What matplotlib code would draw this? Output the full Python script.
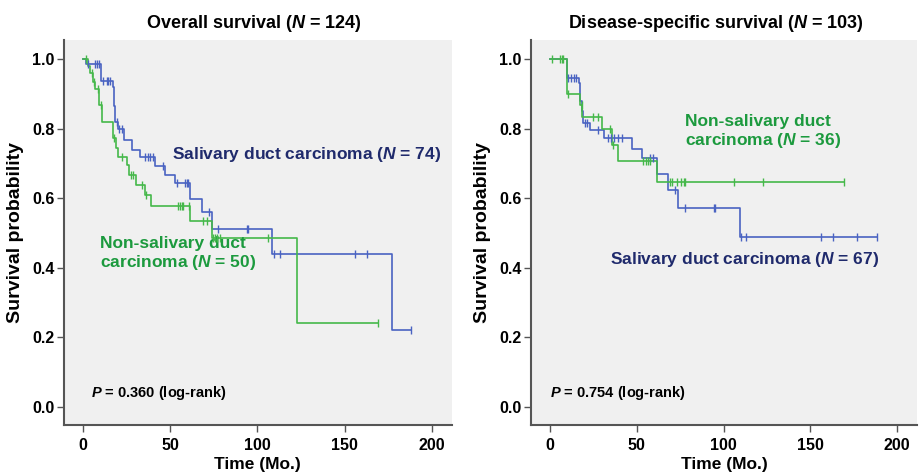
import numpy as np
import matplotlib
matplotlib.use("Agg")
import matplotlib.pyplot as plt

plt.rcParams['font.family'] = ['Liberation Sans', 'DejaVu Sans']
plt.rcParams['font.weight'] = 'bold'
plt.rcParams['mathtext.fontset'] = 'custom'
plt.rcParams['mathtext.it'] = 'Liberation Sans:italic:bold'
plt.rcParams['mathtext.rm'] = 'Liberation Sans:bold'

# ---------------- data ----------------
# Overall survival
os_sdc_t = [0, 1.5, 10.5, 17.0, 17.8, 18.4, 20.0, 23.4, 27.8, 32.5, 41.2, 46.9, 52.6, 61.3, 68.0, 74.0, 108.5, 177.0]
os_sdc_s = [1.0, .986, .938, .920, .865, .820, .800, .767, .739, .718, .692, .667, .643, .598, .561, .511, .440, .221]
os_sdc_c = [2.5, 6.7, 8.0, 9.0, 11.5, 13.4, 14.4, 15.3, 19.2, 20.5, 22.0, 35.4, 37.3, 38.5, 40.0, 46.0,
            53.6, 58.4, 59.4, 60.0, 72.3, 77.5, 93.8, 94.7, 109.5, 113.0, 156.0, 162.7, 188.0]

os_non_t = [0, 2.5, 4.2, 5.8, 6.7, 9.2, 10.9, 16.9, 19.0, 20.1, 24.9, 26.5, 30.6, 35.4, 38.7, 61.3, 73.7, 123.0]
os_non_s = [1.0, .980, .959, .935, .913, .868, .820, .772, .745, .719, .695, .667, .638, .609, .578, .534, .485, .242]
os_non_c = [1.5, 5.2, 6.2, 8.4, 10.0, 17.6, 22.5, 27.5, 28.6, 34.0, 36.2, 54.5, 55.5, 56.5, 57.4, 61.0,
            68.9, 70.8, 74.5, 75.5, 77.0, 78.5, 106.2, 169.4]

# Disease-specific survival
dss_sdc_t = [0, 10.0, 16.9, 17.5, 18.2, 19.0, 23.0, 31.2, 47.1, 52.9, 61.5, 67.7, 73.7, 109.2]
dss_sdc_s = [1.0, .947, .930, .880, .850, .815, .796, .772, .743, .715, .671, .624, .571, .488]
dss_sdc_c = [10.6, 12.0, 13.5, 15.0, 20.0, 21.5, 27.9, 33.5, 35.0, 37.0, 39.0, 41.3, 57.7, 59.6, 72.1,
             78.0, 94.2, 95.2, 110.0, 113.0, 156.0, 163.3, 177.1, 188.6]

dss_non_t = [0, 10.0, 17.3, 18.5, 30.2, 35.6, 39.4, 61.5]
dss_non_s = [1.0, .900, .868, .833, .798, .753, .708, .648]
dss_non_c = [1.0, 5.8, 6.8, 7.7, 10.6, 18.3, 25.0, 27.9, 34.6, 36.0, 53.8, 55.5, 56.5, 57.7, 69.0, 70.5,
             73.0, 75.5, 77.0, 78.0, 106.0, 123.0, 169.2]

titles = ["Overall survival ($N$ = 124)", "Disease-specific survival ($N$ = 103)"]
p_texts = ["$P$ = 0.360 (log-rank)", "$P$ = 0.754 (log-rank)"]
x_ticks = [0, 50, 100, 150, 200]
y_ticks = [0.0, 0.2, 0.4, 0.6, 0.8, 1.0]

BLUE = "#4a63c2"
GREEN = "#45b84a"
NAVY = "#1f2a6c"
DGREEN = "#1c9a3e"
BG = "#f0f0f0"
SPINE = "#555555"


def km(ax, t, s, c, color):
    t = np.asarray(t, float)
    s = np.asarray(s, float)
    c = np.asarray(c, float)
    tend = max(t[-1], c.max())
    tx = np.append(t, tend)
    sx = np.append(s, s[-1])
    ax.step(tx, sx, where='post', color=color, lw=1.2, zorder=3)
    idx = np.searchsorted(t, c, side='right') - 1
    ax.plot(c, s[idx], ls='none', marker='|', ms=6, mew=1.0, color=color, zorder=4)


fig = plt.figure(figsize=(9.19, 4.76), dpi=100)
W, H = 919, 476
ax1 = fig.add_axes([64 / W, 1 - 425 / H, (451.7 - 64) / W, 385 / H])
ax2 = fig.add_axes([531 / W, 1 - 425 / H, (917 - 531) / W, 385 / H])

km(ax1, os_sdc_t, os_sdc_s, os_sdc_c, BLUE)
km(ax1, os_non_t, os_non_s, os_non_c, GREEN)
km(ax2, dss_sdc_t, dss_sdc_s, dss_sdc_c, BLUE)
km(ax2, dss_non_t, dss_non_s, dss_non_c, GREEN)

for i, ax in enumerate([ax1, ax2]):
    ax.set_facecolor(BG)
    ax.set_xlim(-11, 211.5)
    ax.set_ylim(-0.052, 1.055)
    ax.set_xticks(x_ticks)
    ax.set_yticks(y_ticks)
    ax.set_yticklabels([f"{v:.1f}" for v in y_ticks])
    for side in ['top', 'right']:
        ax.spines[side].set_visible(False)
    for side in ['left', 'bottom']:
        ax.spines[side].set_color(SPINE)
        ax.spines[side].set_linewidth(1.5)
    ax.tick_params(axis='both', length=5, width=1.0, color=SPINE, labelsize=11.5, pad=2)
    ax.tick_params(axis='x', pad=4)
    for lab in ax.get_xticklabels() + ax.get_yticklabels():
        lab.set_fontweight('bold')
    ax.set_xlabel("Time (Mo.)", fontsize=12.5, fontweight='bold', labelpad=3)
    ax.set_ylabel("Survival probability", fontsize=14, fontweight='bold', labelpad=6)
    ax.text(0.07 if i == 0 else 0.05, 0.083, p_texts[i], transform=ax.transAxes, fontsize=10.5,
            fontweight='bold', va='center', ha='left', color='black')

ax1.set_title(titles[0], fontsize=13, fontweight='bold', pad=9, x=0.49)
ax2.set_title(titles[1], fontsize=13, fontweight='bold', pad=9, x=0.48)

ax1.text(51, 0.727, "Salivary duct carcinoma ($N$ = 74)", fontsize=12.5, fontweight='bold',
         color=NAVY, va='center', ha='left')
ax1.text(9.5, 0.44, "Non-salivary duct\ncarcinoma ($N$ = 50)", fontsize=12.5, fontweight='bold',
         color=DGREEN, va='center', ha='left', linespacing=1.1)
ax2.text(78, 0.79, "Non-salivary duct\ncarcinoma ($N$ = 36)", fontsize=12.5, fontweight='bold',
         color=DGREEN, va='center', ha='left', linespacing=1.1)
ax2.text(34.5, 0.423, "Salivary duct carcinoma ($N$ = 67)", fontsize=12.5, fontweight='bold',
         color=NAVY, va='center', ha='left')

fig.savefig("out.png", dpi=100)
